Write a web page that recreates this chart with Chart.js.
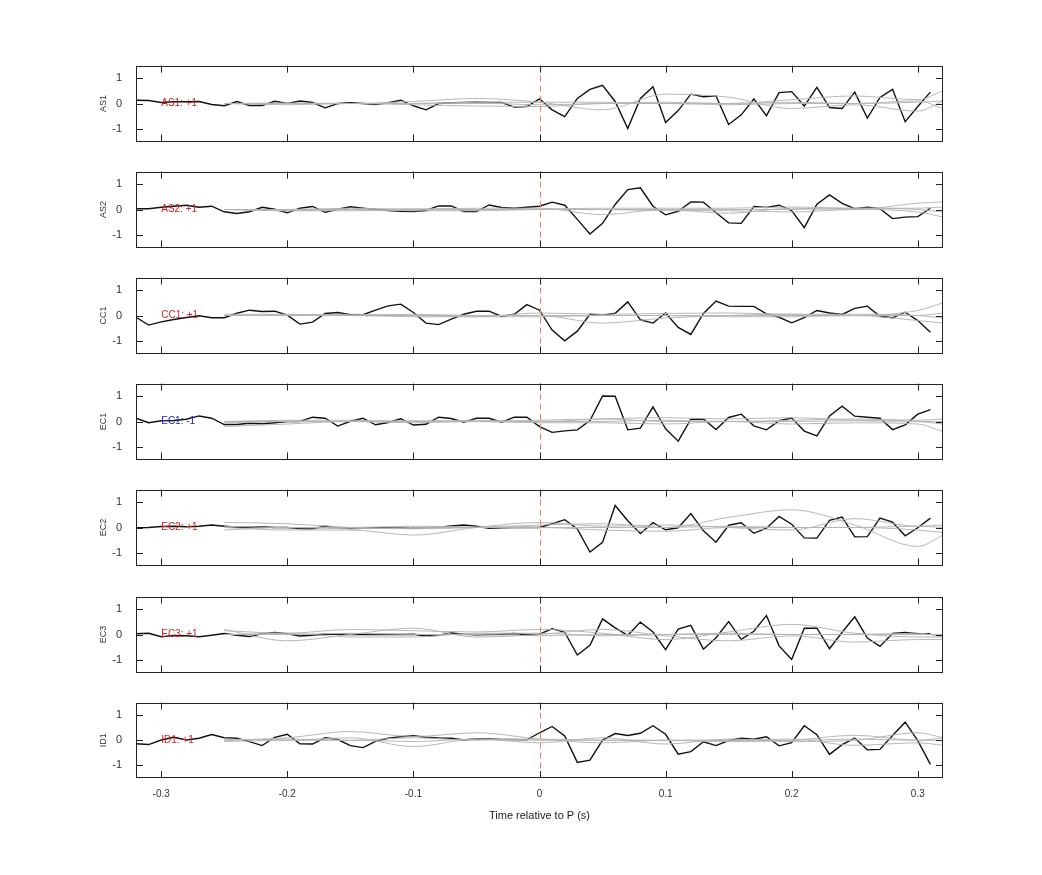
<!DOCTYPE html>
<html>
<head>
<meta charset="utf-8">
<script src="https://cdn.jsdelivr.net/npm/chart.js@4"></script>
<style>
body{margin:0;background:#fff;width:1042px;height:875px;position:relative;overflow:hidden}
canvas{position:absolute;left:0}
</style>
</head>
<body>
<script>
// time axis (s)
const time = [-0.32,-0.31,-0.30,-0.29,-0.28,-0.27,-0.26,-0.25,-0.24,-0.23,-0.22,-0.21,-0.20,-0.19,-0.18,-0.17,-0.16,-0.15,-0.14,-0.13,-0.12,-0.11,-0.10,-0.09,-0.08,-0.07,-0.06,-0.05,-0.04,-0.03,-0.02,-0.01,
  0.00,0.01,0.02,0.03,0.04,0.05,0.06,0.07,0.08,0.09,0.10,0.11,0.12,0.13,0.14,0.15,0.16,0.17,0.18,0.19,0.20,0.21,0.22,0.23,0.24,0.25,0.26,0.27,0.28,0.29,0.30,0.31];
const grayTime = [-0.25,-0.20,-0.15,-0.10,-0.05,0.00,0.05,0.10,0.15,0.20,0.25,0.30,0.32];

const stations = ['AS1','AS2','CC1','EC1','EC2','EC3','ID1'];
const polarity = ['+1','+1','+1','-1','+1','+1','+1'];

const AS1 = [0.13,0.12,0.04,0.07,0.07,0.08,-0.04,-0.09,0.08,-0.08,-0.08,0.09,0,0.1,0.04,-0.17,0,0.03,0,-0.04,0.03,0.13,-0.09,-0.25,0,0.03,0.04,0.05,0.04,0.04,-0.14,-0.12,
  0.18,-0.25,-0.52,0.2,0.56,0.72,0.08,-0.99,0.2,0.66,-0.75,-0.28,0.37,0.27,0.3,-0.83,-0.45,0.18,-0.48,0.43,0.47,-0.1,0.64,-0.16,-0.2,0.45,-0.58,0.24,0.56,-0.72,-0.12,0.45];
const AS2 = [0.03,0.03,0.09,0.13,0.17,0.09,0.13,-0.09,-0.16,-0.09,0.09,0.01,-0.13,0.05,0.12,-0.11,0.01,0.11,0.05,0,-0.04,-0.07,-0.08,-0.04,0.14,0.14,-0.08,-0.08,0.18,0.08,0.05,0.09,
  0.13,0.29,0.17,-0.39,-0.97,-0.55,0.2,0.79,0.86,0.13,-0.21,-0.07,0.3,0.29,-0.13,-0.53,-0.55,0.12,0.08,0.17,-0.04,-0.72,0.21,0.58,0.24,0.03,0.09,0.03,-0.36,-0.3,-0.28,0.05];
const CC1 = [-0.07,-0.38,-0.25,-0.16,-0.08,-0.01,-0.09,-0.09,0.09,0.21,0.16,0.17,0.01,-0.34,-0.26,0.08,0.12,0.03,0.03,0.21,0.38,0.45,0.12,-0.3,-0.36,-0.14,0.05,0.17,0.17,-0.04,0.05,0.43,
  0.21,-0.58,-1.0,-0.62,0.05,0.01,0.09,0.54,-0.17,-0.3,0.1,-0.47,-0.75,0.08,0.57,0.37,0.36,0.36,0.07,-0.07,-0.29,-0.08,0.2,0.1,0.04,0.28,0.37,-0.03,-0.09,0.13,-0.2,-0.66];
const EC1 = [0.13,-0.05,0.03,0.04,0.09,0.22,0.13,-0.12,-0.12,-0.07,-0.09,-0.05,0,0,0.17,0.13,-0.18,0.01,0.13,-0.13,-0.04,0.11,-0.14,-0.11,0.17,0.12,-0.03,0.13,0.13,-0.03,0.17,0.17,
  -0.2,-0.43,-0.37,-0.33,0.04,1.01,1.0,-0.33,-0.26,0.58,-0.29,-0.78,0.09,0.1,-0.32,0.16,0.29,-0.17,-0.33,0.03,0.14,-0.38,-0.57,0.22,0.61,0.21,0.17,0.13,-0.32,-0.13,0.29,0.47];
const EC2 = [-0.01,0,0.04,0.05,0.03,0.05,0.1,0.05,0.01,0.01,0.03,0,0,-0.04,-0.05,0.05,-0.01,-0.04,-0.03,-0.01,-0.01,-0.01,-0.01,-0.01,0.01,0.06,0.1,0.05,-0.03,-0.01,0,0,
  0,0.15,0.31,-0.06,-0.97,-0.59,0.87,0.27,-0.24,0.19,-0.09,-0.01,0.55,-0.13,-0.58,0.09,0.19,-0.23,-0.03,0.44,0.13,-0.41,-0.42,0.28,0.41,-0.37,-0.36,0.37,0.21,-0.33,-0.01,0.37];
const EC3 = [0.03,0.05,-0.09,-0.04,-0.05,-0.09,-0.03,0.04,-0.03,-0.08,0.03,0.08,0.03,-0.06,-0.03,0.01,0.01,0,0,0,0,0,0.01,-0.06,-0.03,0.06,0.01,-0.01,0,0.01,0.04,-0.01,
  0.01,0.23,0.09,-0.81,-0.43,0.62,0.26,-0.03,0.49,0.1,-0.6,0.21,0.36,-0.58,-0.13,0.51,-0.19,0.13,0.75,-0.45,-0.99,0.25,0.25,-0.56,0.09,0.7,-0.14,-0.47,0.04,0.08,0.03,0.03];
const ID1 = [-0.14,-0.17,0.01,0.12,0.01,0.08,0.23,0.1,0.08,-0.05,-0.21,0.12,0.24,-0.14,-0.15,0.1,0.03,-0.21,-0.29,-0.04,0.08,0.14,0.18,0.12,0.09,0.08,0.01,0.06,0.05,0.03,0.03,0.02,
  0.3,0.55,0.17,-0.88,-0.79,0.01,0.27,0.19,0.28,0.58,0.24,-0.55,-0.45,-0.06,-0.21,-0.01,0.08,0.04,0.14,-0.22,-0.09,0.58,0.22,-0.56,-0.17,0.09,-0.38,-0.36,0.19,0.72,-0.01,-0.96];

// light grey comparison traces, sampled at grayTime
const grayAS1 = [[0,0.02,0,0.08,0.2,0.05,-0.25,0.37,0.25,-0.2,-0.05,-0.3,0.1],[0,0,0,0,0.02,-0.05,0,0.05,0,0.15,0.3,0.15,0.5],[0,-0.05,0,-0.05,-0.1,-0.12,0,0,-0.05,0,0,0.1,-0.2],[0,0,0,0,0.05,0.05,0.05,0,0,0.05,0,0.05,0.1]];
const grayAS2 = [[0,-0.05,-0.05,0,0.05,0.05,-0.2,0,-0.15,0.05,0,0.25,0.3],[0,0,0.05,0,0,0.02,0.05,0.05,0.05,0.1,0.05,0.05,0.1],[0,-0.05,0,-0.05,-0.05,0,0,-0.05,-0.05,-0.1,0,-0.1,-0.3],[0,0,0,0.03,0,0,0,0,0,0,0.05,0,-0.1]];
const grayCC1 = [[0.05,0.05,0,0.05,0,0,-0.3,-0.1,0,0.05,0,0.2,0.5],[0,0,0.05,0,-0.05,0.1,0.05,0.08,0.1,0.05,0.05,0,-0.1],[0,0,0,-0.05,-0.05,-0.05,0,0,-0.05,-0.05,0,-0.2,-0.3],[0,0.03,0,0,0,0,0,0,0,0,0,0,0.1]];
const grayEC1 = [[-0.2,-0.1,0,0,0.05,0,0.1,0.15,0.1,0.15,0.05,0,-0.1],[0,0.05,0.05,0,0,0.05,0.1,0,0,0.05,0.1,0.05,0.1],[-0.05,0,0,-0.05,0,-0.05,-0.05,-0.1,0,-0.1,-0.05,-0.1,-0.4],[0,0,0,0.03,0,0,0,0.05,0,0,0.03,0,0]];
const grayEC2 = [[0.2,0.15,0,-0.05,0,0.1,0.15,0,0.4,0.7,0.1,-0.75,-0.3],[0,-0.1,-0.1,-0.3,0,0.2,0.05,0.1,0,-0.1,0.35,0.05,0.1],[-0.1,0,-0.05,0,0,0,-0.1,-0.15,0,0,0,-0.1,-0.2],[0.05,0,0,0.05,0.02,0,0,0,0.05,0,0,0.05,0]];
const grayEC3 = [[0.15,0.05,0.2,0.15,0.1,0.2,0.05,-0.2,0.1,0.4,0.05,-0.1,-0.1],[0.2,-0.25,0,0.25,-0.1,0,0.2,-0.05,-0.25,-0.05,-0.3,-0.2,-0.2],[0,0.05,-0.1,-0.1,0.05,0.05,-0.05,0,0.05,0,0,0.05,-0.1],[0,0,0.05,0,0,-0.05,0,0,0,0,0,0,0]];
const grayID1 = [[0,0.1,0.35,0.15,0.3,0.05,-0.1,0,-0.05,0,0.2,0,0.1],[0.05,0,0.1,-0.25,0.05,-0.1,0.1,-0.15,0.05,-0.05,0,0.3,0.1],[0,0.05,0,0.1,0,0.05,0,0,0,0.05,-0.2,-0.1,-0.2],[-0.05,0,0,-0.05,0.05,0,0,0,0,0,0.05,0,0]];

const blackSeries = [AS1,AS2,CC1,EC1,EC2,EC3,ID1];
const graySeries = [grayAS1,grayAS2,grayCC1,grayEC1,grayEC2,grayEC3,grayID1];
const xTicks = [-0.3,-0.2,-0.1,0,0.1,0.2,0.3];
const yTicks = [-1,0,1];
const panelTops = [66,172,278,384,490,597,703];
const PANEL_H = 75, EDGE = 13; // space Chart.js keeps above/below the plot for y tick labels

// frame, inward ticks, zero line and station label
const framePlugin = {
  id:'frame',
  afterDatasetsDraw(chart, args, opts){
    const {ctx, chartArea:a, scales:{x, y}} = chart;
    ctx.save();
    ctx.strokeStyle = '#ee7777'; ctx.lineWidth = 1; ctx.setLineDash([6,4]);
    const x0 = Math.round(x.getPixelForValue(0))+0.5;
    ctx.beginPath(); ctx.moveTo(x0, a.top); ctx.lineTo(x0, a.bottom); ctx.stroke();
    ctx.setLineDash([]);
    ctx.strokeStyle = '#222'; ctx.lineWidth = 1;
    ctx.strokeRect(Math.round(a.left)+0.5, Math.round(a.top)+0.5, Math.round(a.right-a.left)-1, Math.round(a.bottom-a.top)-1);
    ctx.beginPath();
    xTicks.forEach(v=>{const p = Math.round(x.getPixelForValue(v))+0.5;
      ctx.moveTo(p, a.top); ctx.lineTo(p, a.top+7); ctx.moveTo(p, a.bottom); ctx.lineTo(p, a.bottom-7);});
    yTicks.forEach(v=>{const p = Math.round(y.getPixelForValue(v))+0.5;
      ctx.moveTo(a.left, p); ctx.lineTo(a.left+7, p); ctx.moveTo(a.right, p); ctx.lineTo(a.right-7, p);});
    ctx.stroke();
    ctx.fillStyle = opts.color; ctx.font = '10px "Liberation Sans", Arial, sans-serif';
    ctx.textBaseline = 'middle';
    ctx.fillText(opts.label, x.getPixelForValue(-0.3), y.getPixelForValue(0));
    ctx.restore();
  }
};

stations.forEach((name, i)=>{
  const last = i === stations.length-1;
  const xAxisH = last ? 49 : 0;
  const h = EDGE + PANEL_H + (last ? xAxisH : EDGE);
  const cv = document.createElement('canvas');
  cv.width = 1042; cv.height = h;
  cv.style.top = (panelTops[i]-EDGE)+'px';
  document.body.appendChild(cv);
  const datasets = graySeries[i].map(g=>({
    data: grayTime.map((t,k)=>({x:t, y:g[k]})),
    borderColor:'rgba(180,180,180,0.95)', borderWidth:1, pointRadius:0, cubicInterpolationMode:'monotone'
  }));
  datasets.push({
    data: time.map((t,k)=>({x:t, y:blackSeries[i][k]})),
    borderColor:'#111', borderWidth:1.4, pointRadius:0, tension:0
  });
  new Chart(cv, {
    type:'line',
    data:{datasets},
    options:{
      responsive:false, animation:false, devicePixelRatio:1,
      layout:{padding:{left:98, right:1042-943, top:0, bottom:0}},
      plugins:{legend:{display:false}, tooltip:{enabled:false},
        frame:{label: name+': '+polarity[i], color: polarity[i]==='-1' ? '#2222cc' : '#cc2222'}},
      scales:{
        x:{type:'linear', min:-0.32, max:0.32, display:last,
          grid:{display:false}, border:{display:false},
          afterBuildTicks: s=>{s.ticks = xTicks.map(v=>({value:v}));},
          afterFit: s=>{s.height = xAxisH;},
          ticks:{color:'#333', font:{size:10, family:'"Liberation Sans", Arial'}, padding:2,
            callback: v=> v===0 ? '0' : String(Number(v.toFixed(1)))},
          title:{display:true, text:'Time relative to P (s)', color:'#222', font:{size:11, family:'"Liberation Sans", Arial'}, padding:{top:8}}},
        y:{min:-1.5, max:1.5,
          grid:{display:false}, border:{display:false},
          afterBuildTicks: s=>{s.ticks = yTicks.map(v=>({value:v}));},
          afterFit: s=>{s.width = 136-98;},
          ticks:{color:'#333', font:{size:11, family:'"Liberation Sans", Arial'}, padding:6},
          title:{display:true, text:name, color:'#333', font:{size:9, family:'"Liberation Sans", Arial'}, padding:0}}
      }
    },
    plugins:[framePlugin]
  });
});
</script>
</body>
</html>
